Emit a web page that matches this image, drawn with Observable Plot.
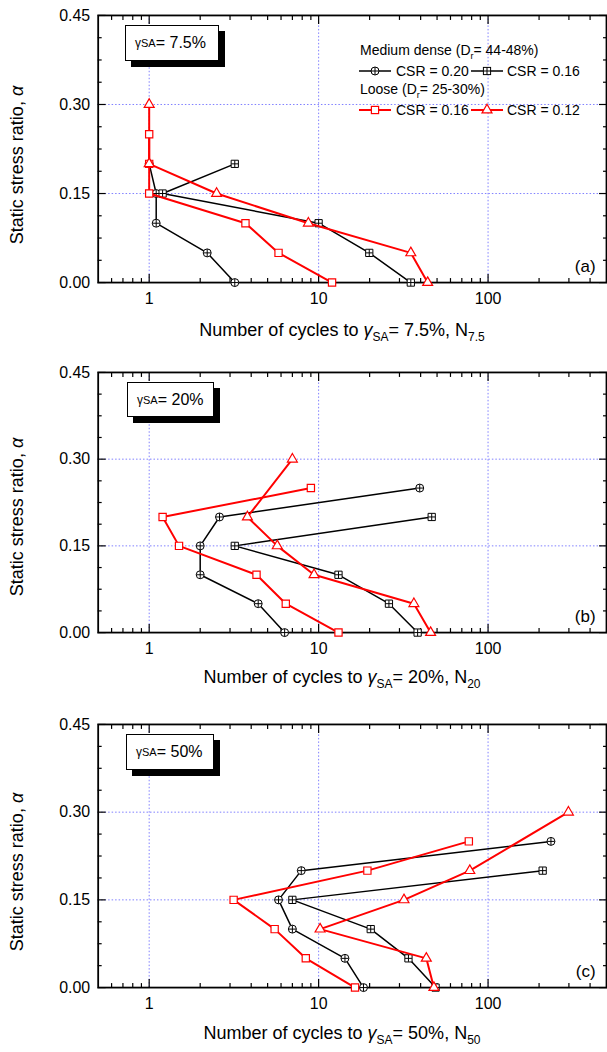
<!DOCTYPE html>
<html><head><meta charset="utf-8">
<script src="https://cdn.jsdelivr.net/npm/d3@7"></script>
<script src="https://cdn.jsdelivr.net/npm/@observablehq/plot@0.6"></script>
<style>
html,body{margin:0;padding:0;background:#fff;}
body{width:607px;height:1052px;overflow:hidden;position:relative;font-family:"Liberation Sans",Arial,sans-serif;color:#000;}
.panel{position:absolute;left:0;width:607px;overflow:hidden;}
.ytitle{position:absolute;white-space:nowrap;font-size:18px;transform:translate(-50%,-50%) rotate(-90deg);}
.xtitle{position:absolute;white-space:nowrap;font-size:18px;transform:translate(-50%,-50%);}
.xtitle sub{font-size:12px;vertical-align:-5px;line-height:0;}
.gbox{position:absolute;background:#fff;border:1px solid #000;box-shadow:6px 6px 0 #000;box-sizing:border-box;font-size:16px;display:flex;align-items:center;padding-left:9px;white-space:nowrap;}
.gbox .g{font-size:12px;}
.gbox sub{font-size:11px;vertical-align:-5px;line-height:0;}
.leg{position:absolute;white-space:nowrap;font-size:14px;transform:translateY(-50%);}
.leg sub{font-size:9px;vertical-align:-4px;line-height:0;}
.sw{position:absolute;transform:translateY(-50%);}
</style></head>
<body>
<script>
// ---- axis ticks ----
const xMajor = [1, 10, 100];
const xMinor = [0.6,0.7,0.8,0.9,2,3,4,5,6,7,8,9,20,30,40,50,60,70,80,90,200,300,400];
const yMajor = [0, 0.15, 0.30, 0.45];
const yMinor = [0.0375,0.075,0.1125,0.1875,0.225,0.2625,0.3375,0.375,0.4125];
const xGrid = [1, 10, 100];
const yGrid = [0.15, 0.30];

// ---- static stress ratio levels ----
const alphaMD20a = [0.20, 0.15, 0.10, 0.05, 0.00];
const alphaMD16 = [0.20, 0.15, 0.10, 0.05, 0.00];
const alphaMD20 = [0.25, 0.20, 0.15, 0.10, 0.05, 0.00];
const alphaL16 = [0.25, 0.20, 0.15, 0.10, 0.05, 0.00];
const alphaL12 = [0.30, 0.20, 0.15, 0.10, 0.05, 0.00];

// ---- (a) gamma_SA = 7.5% ----
const nA_MD20 = [1.0, 1.1, 1.1, 2.2, 3.2];
const nA_MD16 = [3.2, 1.2, 10, 19.9, 35];
const nA_L16 = [1.0, 1.0, 1.0, 3.7, 5.8, 12];
const nA_L12 = [1.0, 1.0, 2.5, 8.7, 35, 44];
// ---- (b) gamma_SA = 20% ----
const nB_MD20 = [39.5, 2.6, 2.0, 2.0, 4.4, 6.3];
const nB_MD16 = [46.5, 3.2, 13.1, 26, 38.4];
const nB_L16 = [9.0, 1.2, 1.5, 4.3, 6.4, 13.1];
const nB_L12 = [7.0, 3.8, 5.7, 9.4, 36.5, 45.8];
// ---- (c) gamma_SA = 50% ----
const nC_MD20 = [235, 7.9, 5.8, 7.0, 14.3, 18.4];
const nC_MD16 = [210, 7.0, 20.3, 33.9, 49];
const nC_L16 = [77, 19.4, 3.15, 5.5, 8.4, 16.4];
const nC_L12 = [298, 78, 31.9, 10.2, 43.2, 47.9];

const panelLabels = ["(a)", "(b)", "(c)"];
const gammaVals = ["7.5%", "20%", "50%"];
const nSubs = ["7.5", "20", "50"];

const RED = "#ff0000";
const GRID = "#7f7fff";

function rows(n, a) { return n.map((v, i) => ({N: v, a: a[i]})); }

function makePanel(cfg) {
  const md20 = rows(cfg.md20, cfg.aMD20);
  const md16 = rows(cfg.md16, alphaMD16);
  const l16 = rows(cfg.l16, alphaL16);
  const l12 = rows(cfg.l12, alphaL12);
  const tickOpts = {tickFormat: () => "", label: null, strokeWidth: 1.2};
  return Plot.plot({
    width: 609, height: 15 + cfg.plotH + 30,
    marginTop: 15, marginBottom: 30, marginLeft: 98, marginRight: 1,
    x: {type: "log", domain: [0.5, 500]},
    y: {domain: [0, 0.45]},
    style: {fontFamily: "Liberation Sans, Arial, sans-serif", fontSize: "16px", color: "black", background: "transparent", overflow: "visible"},
    marks: [
      Plot.ruleX(xGrid, {stroke: GRID, strokeWidth: 1, strokeDasharray: "1.5,2"}),
      Plot.ruleY(yGrid, {stroke: GRID, strokeWidth: 1, strokeDasharray: "1.5,2"}),
      // ticks (inward)
      Plot.axisX(xMajor, {anchor: "bottom", tickSize: -8, ...tickOpts}),
      Plot.axisX(xMajor, {anchor: "top", tickSize: -8, ...tickOpts}),
      Plot.axisX(xMinor, {anchor: "bottom", tickSize: -4, ...tickOpts}),
      Plot.axisX(xMinor, {anchor: "top", tickSize: -4, ...tickOpts}),
      Plot.axisY(yMajor, {anchor: "left", tickSize: -8, ...tickOpts}),
      Plot.axisY(yMajor, {anchor: "right", tickSize: -8, ...tickOpts}),
      Plot.axisY(yMinor, {anchor: "left", tickSize: -4, ...tickOpts}),
      Plot.axisY(yMinor, {anchor: "right", tickSize: -4, ...tickOpts}),
      // tick labels
      Plot.axisX(xMajor, {anchor: "bottom", tickSize: 0, tickPadding: 10, tickFormat: d => String(d), label: null, fontSize: 16}),
      Plot.axisY(yMajor, {anchor: "left", tickSize: 0, tickPadding: 8, tickFormat: d3.format(".2f"), label: null, fontSize: 16}),
      Plot.frame({stroke: "black", strokeWidth: 1.8}),
      // medium dense
      Plot.line(md20, {x: "N", y: "a", stroke: "black", strokeWidth: 1.5}),
      Plot.line(md16, {x: "N", y: "a", stroke: "black", strokeWidth: 1.5}),
      Plot.dot(md20, {x: "N", y: "a", symbol: "circle", r: 4, fill: "white", stroke: "black", strokeWidth: 1}),
      Plot.dot(md20, {x: "N", y: "a", symbol: "plus", r: 2.55, stroke: "black", strokeWidth: 1}),
      Plot.dot(md16, {x: "N", y: "a", symbol: "square", r: 4.1, fill: "white", stroke: "black", strokeWidth: 1}),
      Plot.dot(md16, {x: "N", y: "a", symbol: "plus", r: 2.35, stroke: "black", strokeWidth: 1}),
      // loose
      Plot.line(l16, {x: "N", y: "a", stroke: RED, strokeWidth: 2}),
      Plot.line(l12, {x: "N", y: "a", stroke: RED, strokeWidth: 2}),
      Plot.dot(l16, {x: "N", y: "a", symbol: "square", r: 4.1, fill: "white", stroke: RED, strokeWidth: 1.2}),
      Plot.dot(l12, {x: "N", y: "a", symbol: "triangle", r: 3.7, fill: "white", stroke: RED, strokeWidth: 1.2}),
      Plot.text([cfg.label], {frameAnchor: "bottom-right", dx: -11, dy: -16, textAnchor: "end", lineAnchor: "middle", fontSize: 17})
    ]
  });
}

const panels = [
  {top: 0, plotH: 268, aMD20: alphaMD20a, md20: nA_MD20, md16: nA_MD16, l16: nA_L16, l12: nA_L12, label: panelLabels[0],
   yTitleY: 165, xTitleY: 330, box: {l: 125, t: 25, w: 94, h: 36}},
  {top: 357, plotH: 261, aMD20: alphaMD20, md20: nB_MD20, md16: nB_MD16, l16: nB_L16, l12: nB_L12, label: panelLabels[1],
   yTitleY: 517, xTitleY: 677, box: {l: 127, t: 382, w: 87, h: 35}},
  {top: 709, plotH: 264, aMD20: alphaMD20, md20: nC_MD20, md16: nC_MD16, l16: nC_L16, l12: nC_L12, label: panelLabels[2],
   yTitleY: 872, xTitleY: 1033, box: {l: 126, t: 734, w: 88, h: 36}}
];

panels.forEach((p, i) => {
  const div = document.createElement("div");
  div.className = "panel";
  div.style.top = p.top + "px";
  div.appendChild(makePanel(p));
  document.body.appendChild(div);

  const yt = document.createElement("div");
  yt.className = "ytitle";
  yt.style.left = "17px"; yt.style.top = p.yTitleY + "px";
  yt.innerHTML = "Static stress ratio, <i>&alpha;</i>";
  document.body.appendChild(yt);

  const xt = document.createElement("div");
  xt.className = "xtitle";
  xt.style.left = "342px"; xt.style.top = p.xTitleY + "px";
  xt.innerHTML = `Number of cycles to <i>&gamma;</i><sub>SA</sub>= ${gammaVals[i]}, N<sub>${nSubs[i]}</sub>`;
  document.body.appendChild(xt);

  const bx = document.createElement("div");
  bx.className = "gbox";
  Object.assign(bx.style, {left: p.box.l + "px", top: p.box.t + "px", width: p.box.w + "px", height: p.box.h + "px"});
  bx.innerHTML = `<span class="g">&gamma;</span><sub>SA</sub>= ${gammaVals[i]}`;
  document.body.appendChild(bx);
});

// ---- legend (panel a) ----
function swatch(color, sym, lw) {
  const w = 32, h = 14;
  const svg = d3.create("svg").attr("width", w).attr("height", h);
  svg.append("line").attr("x1", 0).attr("x2", w).attr("y1", h/2).attr("y2", h/2).attr("stroke", color).attr("stroke-width", lw);
  const g = svg.append("g").attr("transform", `translate(${w/2},${h/2})`);
  const R = 4.1;
  if (sym === "circleplus") {
    g.append("circle").attr("r", 4).attr("fill", "white").attr("stroke", color);
    g.append("path").attr("d", "M-4,0H4M0,-4V4").attr("stroke", color);
  } else if (sym === "squareplus") {
    g.append("rect").attr("x", -3.6).attr("y", -3.6).attr("width", 7.2).attr("height", 7.2).attr("fill", "white").attr("stroke", color);
    g.append("path").attr("d", "M-3.6,0H3.6M0,-3.6V3.6").attr("stroke", color);
  } else if (sym === "square") {
    g.append("rect").attr("x", -3.6).attr("y", -3.6).attr("width", 7.2).attr("height", 7.2).attr("fill", "white").attr("stroke", color).attr("stroke-width", 1.2);
  } else {
    g.append("path").attr("d", d3.symbol(d3.symbolTriangle, Math.PI * 3.7 * 3.7)()).attr("fill", "white").attr("stroke", color).attr("stroke-width", 1.2);
  }
  return svg.node();
}
function addText(html, x, y) {
  const d = document.createElement("div");
  d.className = "leg"; d.style.left = x + "px"; d.style.top = y + "px";
  d.innerHTML = html; document.body.appendChild(d);
}
function addSw(node, x, y) {
  const d = document.createElement("div");
  d.className = "sw"; d.style.left = x + "px"; d.style.top = y + "px";
  d.style.height = "14px";
  d.appendChild(node); document.body.appendChild(d);
}
const legendGroups = ["Medium dense (D<sub>r</sub>= 44-48%)", "Loose (D<sub>r</sub>= 25-30%)"];
const legendCSR = ["CSR = 0.20", "CSR = 0.16", "CSR = 0.16", "CSR = 0.12"];
addText(legendGroups[0], 360, 50);
addSw(swatch("black", "circleplus", 1.5), 359, 71);
addText(legendCSR[0], 396, 71);
addSw(swatch("black", "squareplus", 1.5), 471, 71);
addText(legendCSR[1], 507, 71);
addText(legendGroups[1], 360, 89);
addSw(swatch(RED, "square", 2), 359, 110);
addText(legendCSR[2], 396, 110);
addSw(swatch(RED, "triangle", 2), 471, 110);
addText(legendCSR[3], 507, 110);
</script>
</body></html>
